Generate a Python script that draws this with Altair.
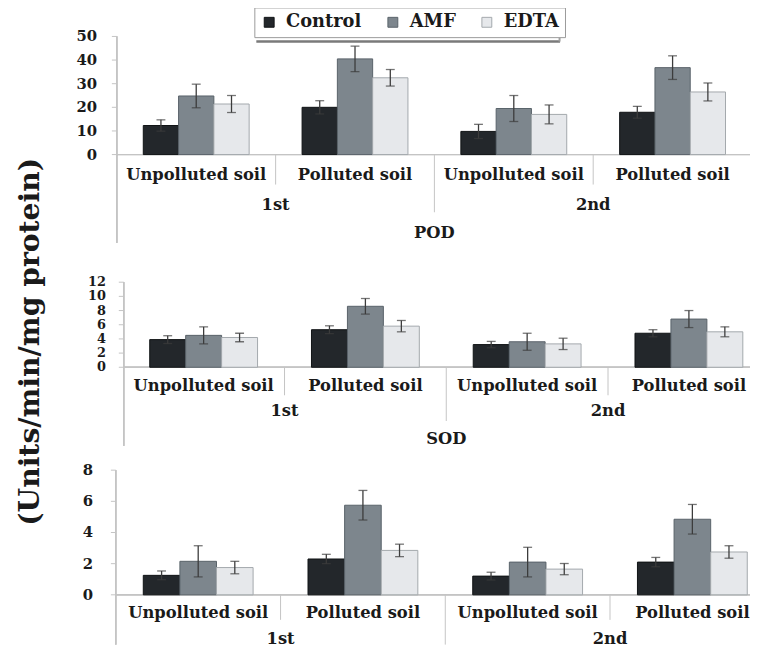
import altair as alt
import pandas as pd

treatments = ["Control", "AMF", "EDTA"]
seasons = ["1st", "1st", "2nd", "2nd"]
soils = ["Unpolluted soil", "Polluted soil", "Unpolluted soil", "Polluted soil"]

# rows = category (1st unpolluted, 1st polluted, 2nd unpolluted, 2nd polluted); cols = Control, AMF, EDTA
pod_mean = [[12.3, 24.8, 21.4], [20.0, 40.5, 32.5], [9.8, 19.5, 17.0], [17.9, 36.8, 26.5]]
pod_err = [[2.4, 5.0, 3.6], [2.8, 5.4, 3.5], [3.0, 5.5, 4.0], [2.5, 5.0, 3.8]]
sod_mean = [[3.9, 4.5, 4.2], [5.3, 8.6, 5.8], [3.2, 3.6, 3.3], [4.8, 6.8, 5.0]]
sod_err = [[0.55, 1.2, 0.6], [0.55, 1.1, 0.8], [0.45, 1.2, 0.8], [0.5, 1.2, 0.7]]
p3_mean = [[1.25, 2.15, 1.75], [2.3, 5.75, 2.85], [1.2, 2.1, 1.65], [2.1, 4.85, 2.75]]
p3_err = [[0.28, 1.0, 0.4], [0.3, 0.95, 0.4], [0.25, 0.95, 0.36], [0.3, 0.95, 0.4]]

pod_ticks = [0, 10, 20, 30, 40, 50]
sod_ticks = [0, 2, 4, 6, 8, 10, 12]
p3_ticks = [0, 2, 4, 6, 8]
panel_titles = ["POD", "SOD", ""]
y_title = "(Units/min/mg protein)"

fills = ["#23272b", "#7d868d", "#e6e8eb"]
strokes = ["#0f1214", "#596269", "#a3a8ac"]
FONT = "DejaVu Serif"
TXT = "#1a1a1a"
LINE = "#c4c4c4"
LAB = 16.5

cats = [f"{s}|{o}" for s, o in zip(seasons, soils)]


def panel(mean, err, ticks, title, xr, yr, axis_x, axis_end, short_end, long_end,
          soil_y, season_y, title_y, tick_x, tick_fs):
    rows = []
    for i, c in enumerate(cats):
        for j, t in enumerate(treatments):
            m, e = mean[i][j], err[i][j]
            rows.append({"cat": c, "treatment": t, "mean": m, "lo": m - e, "hi": m + e})
    df = pd.DataFrame(rows)
    cat_df = pd.DataFrame({"cat": cats, "soil": soils, "season": seasons})
    bw = (xr[1] - xr[0]) / len(cats)
    xs = alt.Scale(domain=cats, range=xr, paddingInner=0, paddingOuter=0)
    ys = alt.Scale(domain=[ticks[0], ticks[-1]], range=yr, nice=False)
    xo = alt.Scale(domain=treatments, range=[0, bw], paddingInner=0, paddingOuter=0.75)
    X = alt.X("cat:N", scale=xs, axis=None, sort=cats)
    XO = alt.XOffset("treatment:N", scale=xo, sort=treatments)

    bars = alt.Chart(df).mark_bar(strokeWidth=1).encode(
        x=X, xOffset=XO,
        y=alt.Y("mean:Q", scale=ys, axis=None),
        color=alt.Color("treatment:N", scale=alt.Scale(domain=treatments, range=fills),
                        sort=treatments, legend=alt.Legend(title=None)),
        stroke=alt.Stroke("treatment:N", scale=alt.Scale(domain=treatments, range=strokes),
                          sort=treatments, legend=None),
    )
    err_rule = alt.Chart(df).mark_rule(color="#3c3c3c", strokeWidth=1.3).encode(
        x=X, xOffset=XO, y=alt.Y("lo:Q", scale=ys, axis=None), y2="hi:Q")
    cap_hi = alt.Chart(df).mark_tick(color="#3c3c3c", thickness=1.3, size=9).encode(
        x=X, xOffset=XO, y=alt.Y("hi:Q", scale=ys, axis=None))
    cap_lo = alt.Chart(df).mark_tick(color="#3c3c3c", thickness=1.3, size=9).encode(
        x=X, xOffset=XO, y=alt.Y("lo:Q", scale=ys, axis=None))

    tdf = pd.DataFrame({"v": ticks})
    tick_text = alt.Chart(tdf).mark_text(
        align="right", baseline="middle", font=FONT, fontWeight="bold",
        fontSize=tick_fs, color=TXT).encode(
        y=alt.Y("v:Q", scale=ys, axis=None), x=alt.value(tick_x),
        text=alt.Text("v:Q", format="d"))
    tick_marks = alt.Chart(tdf).mark_rule(color=LINE).encode(
        y=alt.Y("v:Q", scale=ys, axis=None), x=alt.value(axis_x - 5), x2=alt.value(axis_x))

    axis_line = alt.Chart(tdf).mark_rule(color=LINE).encode(
        x=alt.value(axis_x), y=alt.value(yr[1]), y2=alt.value(axis_end))
    base_line = alt.Chart(tdf).mark_rule(color=LINE).encode(
        x=alt.value(axis_x), x2=alt.value(xr[1]), y=alt.value(yr[0]))

    short_sep = alt.Chart(cat_df.iloc[[1, 3]]).mark_rule(color=LINE).encode(
        x=alt.X("cat:N", scale=xs, axis=None, sort=cats, bandPosition=0),
        y=alt.value(yr[0]), y2=alt.value(short_end))
    long_sep = alt.Chart(cat_df.iloc[[2]]).mark_rule(color=LINE).encode(
        x=alt.X("cat:N", scale=xs, axis=None, sort=cats, bandPosition=0),
        y=alt.value(yr[0]), y2=alt.value(long_end))

    soil_text = alt.Chart(cat_df).mark_text(
        font=FONT, fontWeight="bold", fontSize=LAB, color=TXT, baseline="middle").encode(
        x=X, y=alt.value(soil_y), text="soil:N")
    season_text = alt.Chart(cat_df.iloc[[1, 3]]).mark_text(
        font=FONT, fontWeight="bold", fontSize=LAB, color=TXT, baseline="middle").encode(
        x=alt.X("cat:N", scale=xs, axis=None, sort=cats, bandPosition=0),
        y=alt.value(season_y), text="season:N")
    layers = [axis_line, base_line, short_sep, long_sep, tick_marks, tick_text,
              bars, err_rule, cap_hi, cap_lo, soil_text, season_text]
    if title:
        tdf2 = cat_df.iloc[[2]].assign(title=title)
        layers.append(alt.Chart(tdf2).mark_text(
            font=FONT, fontWeight="bold", fontSize=LAB, color=TXT, baseline="middle").encode(
            x=alt.X("cat:N", scale=xs, axis=None, sort=cats, bandPosition=0),
            y=alt.value(title_y), text="title:N"))
    return alt.layer(*layers)


p1 = panel(pod_mean, pod_err, pod_ticks, panel_titles[0], [0, 642], [144.7, 25.3],
           0, 234, 175, 203, 165.5, 196, 224, -20, 15)
p2 = panel(sod_mean, sod_err, sod_ticks, panel_titles[1], [6, 660], [359.7, 273.7],
           7, 439, 388, 414, 378.5, 404, 432, -11, 13)
p3 = panel(p3_mean, p3_err, p3_ticks, panel_titles[2], [-1, 665], [589.7, 463.7],
           -1, 640, 615, 640, 608, 634, 0, -24, 15)

ytitle = alt.Chart(pd.DataFrame({"t": [y_title]})).mark_text(
    font=FONT, fontWeight="bold", fontSize=28.5, color=TXT, angle=270,
    align="center", baseline="middle").encode(
    x=alt.value(-88), y=alt.value(334), text="t:N")

# legend box shadow (bottom and right edges)
shadow_df = pd.DataFrame({"k": [0]})
shadow_b = alt.Chart(shadow_df).mark_rule(color="#7a7a7a", strokeWidth=2.5).encode(
    x=alt.value(141), x2=alt.value(448), y=alt.value(30.5))
shadow_r = alt.Chart(shadow_df).mark_rule(color="#a0a0a0", strokeWidth=2).encode(
    x=alt.value(447.5), y=alt.value(-4), y2=alt.value(30.5))

chart = alt.layer(p1, p2, p3, ytitle, shadow_b, shadow_r).resolve_scale(
    x="independent", y="independent", xOffset="independent"
).properties(
    width=640, height=640,
    autosize=alt.AutoSizeParams(type="none"),
    padding={"left": 110, "top": 0, "right": 0, "bottom": 0},
    background="white",
).configure_view(stroke=None).configure_legend(
    orient="none", legendX=139, legendY=-4, direction="horizontal",
    labelFont=FONT, labelFontWeight="bold", labelFontSize=18, labelColor=TXT,
    symbolType="square", symbolSize=100, symbolStrokeWidth=1,
    strokeColor="#9a9a9a", fillColor="white", padding=6,
    columnPadding=22, labelOffset=8,
)

chart.save("out.html", embed_options={"renderer": "svg", "actions": False})
